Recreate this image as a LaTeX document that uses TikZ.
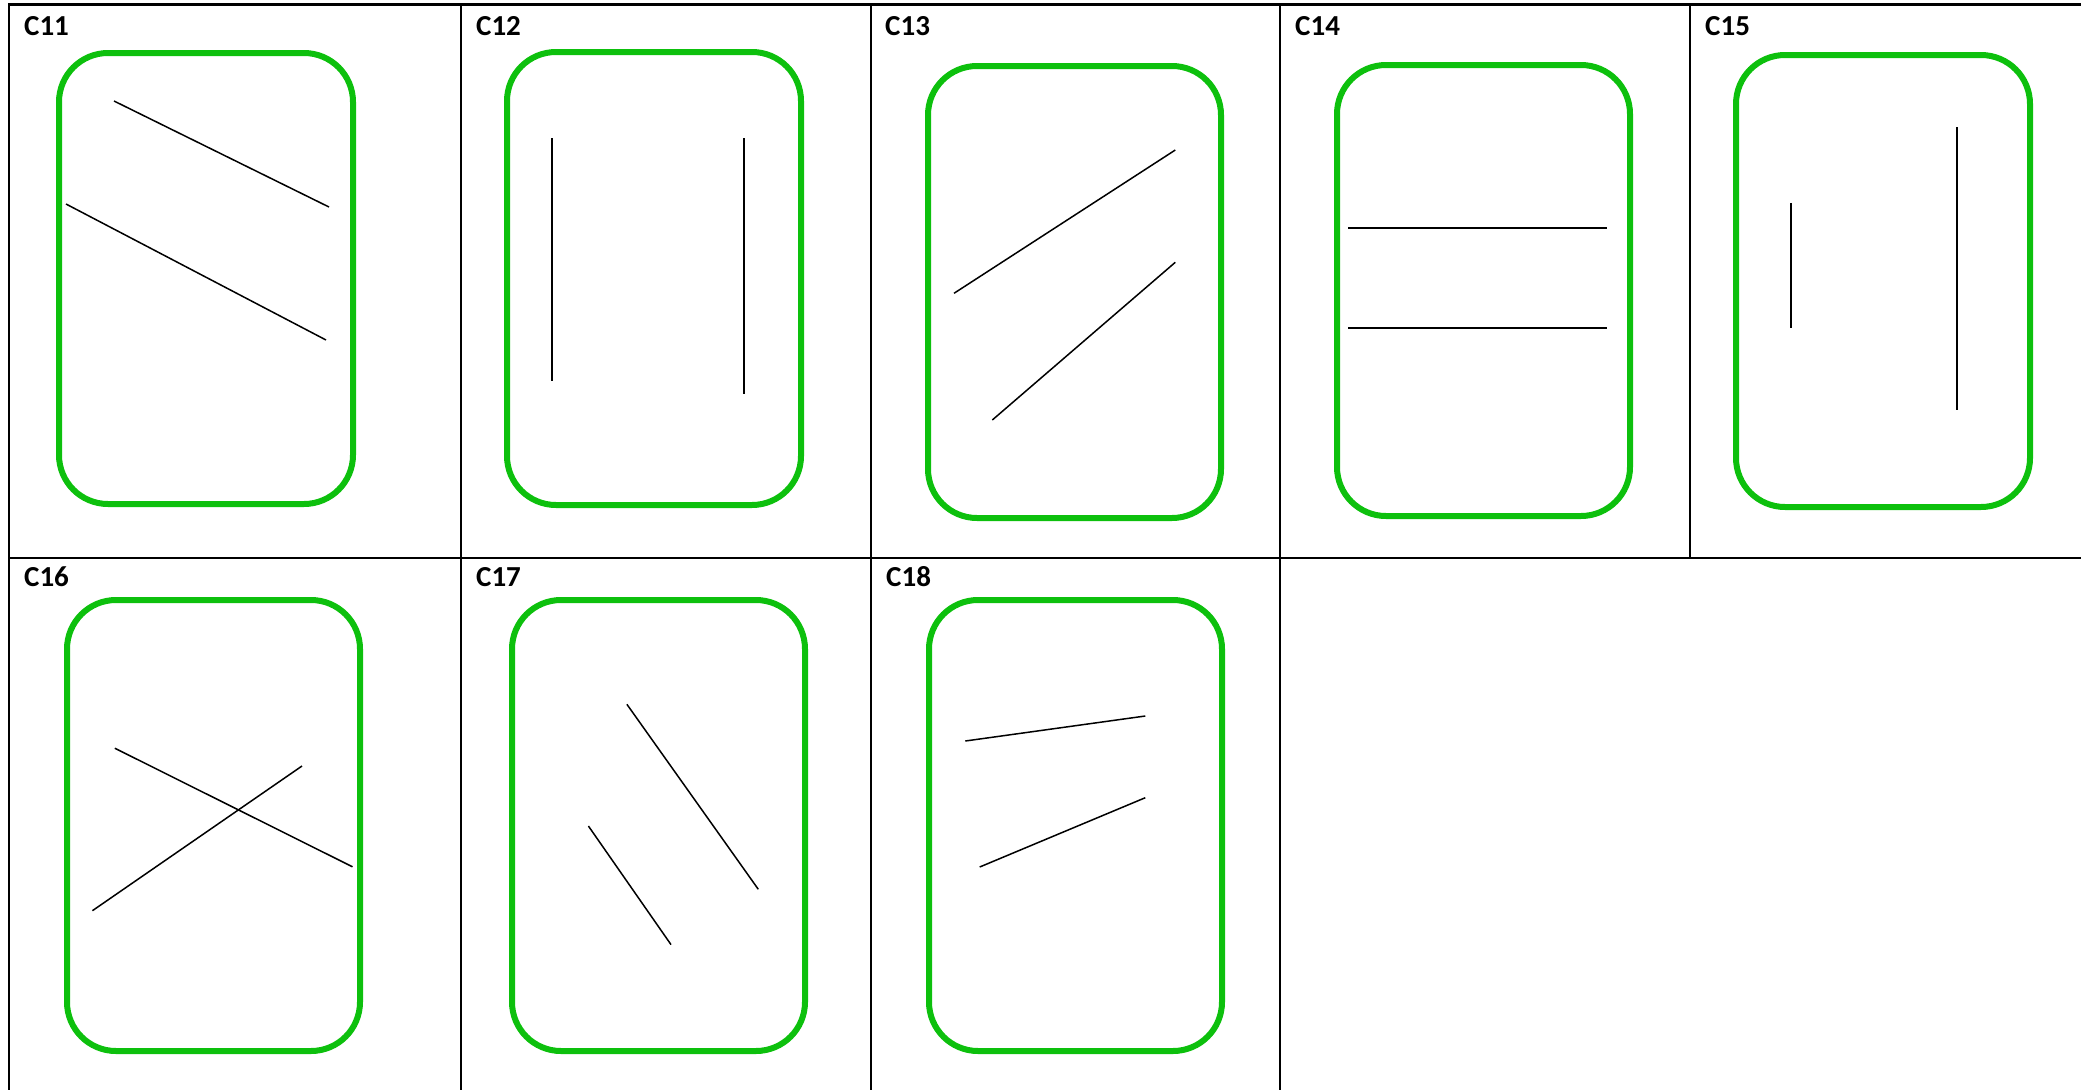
\documentclass[tikz,border=0pt]{standalone}
\usepackage{fontspec}
\newfontfamily\lblfont{Carlito}
\definecolor{cardgreen}{RGB}{13,192,13}
\tikzset{
  card/.style={draw=cardgreen, line width=6pt, rounded corners=49pt},
  pen/.style={line width=1.5pt, line cap=butt},
  thickpen/.style={line width=2.2pt},
  gridline/.style={line width=2.2pt},
  lbl/.style={anchor=base west, inner sep=0pt, font=\lblfont\bfseries\fontsize{29}{34}\selectfont}
}
\begin{document}
\begin{tikzpicture}[x=1pt, y=-1pt]
\useasboundingbox (0,0) rectangle (2081,1090);
% grid
\draw[gridline] (9,1090) -- (9,4.5) -- (2081,4.5);
\draw[gridline] (9,558) -- (2081,558);
\foreach \gx in {461,871,1280,1690} \draw[gridline] (\gx,4.5) -- (\gx,558);
\foreach \gx in {461,871,1280} \draw[gridline] (\gx,558) -- (\gx,1090);
% labels
\node[lbl] (l11) at (24,35) {C11};
\node[lbl] (l12) at (476,35) {C12};
\node[lbl] (l13) at (885,35) {C13};
\node[lbl] (l14) at (1295,35) {C14};
\node[lbl] (l15) at (1705,35) {C15};
\node[lbl] (l16) at (24,586) {C16};
\node[lbl] (l17) at (476,586) {C17};
\node[lbl] (l18) at (886,586) {C18};
% cards
\draw[card] (59,53) rectangle (353,504);
\draw[card] (507,52) rectangle (801,505);
\draw[card] (928,66) rectangle (1221,518);
\draw[card] (1337,65) rectangle (1630,516);
\draw[card] (1736,55) rectangle (2030,507);
\draw[card] (67,600) rectangle (360,1051);
\draw[card] (512,600) rectangle (805,1051);
\draw[card] (929,600) rectangle (1222,1051);
% C11
\draw[pen] (114,101) -- (329,207);
\draw[pen] (66,204) -- (326,340);
% C12
\draw[thickpen] (551.7,138.3) -- (551.7,381);
\draw[thickpen] (744,138.3) -- (744,394.3);
% C13
\draw[pen] (954,293.3) -- (1175.3,150);
\draw[pen] (992.3,420) -- (1175.3,262.3);
% C14
\draw[thickpen] (1348.3,227.7) -- (1607.3,227.7);
\draw[thickpen] (1348.3,327.7) -- (1607.3,327.7);
% C15
\draw[thickpen] (1790.7,202.8) -- (1790.7,327.6);
\draw[thickpen] (1956.7,127) -- (1956.7,409.5);
% C16
\draw[pen] (114.8,748.2) -- (352.5,866.8);
\draw[pen] (92.4,910.7) -- (302,766);
% C17
\draw[pen] (626.9,704.3) -- (758.3,889.3);
\draw[pen] (588.4,826) -- (671,944.6);
% C18
\draw[pen] (965.3,741) -- (1145.3,716);
\draw[pen] (979.7,867) -- (1145.3,797.7);
\end{tikzpicture}
\end{document}
